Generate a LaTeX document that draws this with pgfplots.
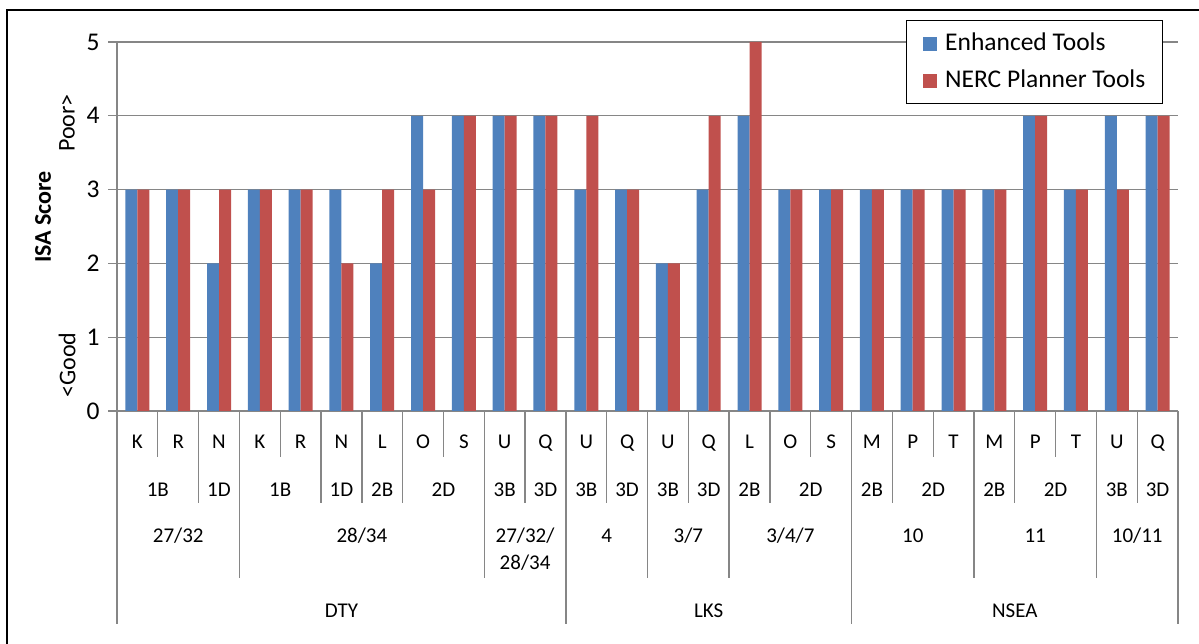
\documentclass[border=0pt]{standalone}
\usepackage{fontspec}
\setmainfont{Carlito}
\usepackage{pgfplots}
\pgfplotsset{compat=1.18}
\definecolor{eblue}{RGB}{79,129,189}
\definecolor{nred}{RGB}{192,80,77}
\definecolor{gridgray}{RGB}{134,134,134}

\begin{document}
\begin{tikzpicture}[x=1pt,y=1pt]
\useasboundingbox (0,0) rectangle (1199,644);
\draw[line width=1.5pt] (7,-5) -- (7,634) -- (1210,634);
\begin{axis}[
  at={(117pt,233pt)}, anchor=south west,
  scale only axis, width=1061pt, height=369pt,
  xmin=0.5, xmax=26.5, ymin=0, ymax=5,
  ybar=0pt, bar width=12pt,
  xtick=\empty, ytick={0,1,2,3,4,5},
  axis x line*=bottom, axis y line*=left,
  axis line style={gridgray, line width=1.3pt, -},
  ymajorgrids, grid style={gridgray, line width=1.3pt},
  tick align=outside, major tick length=9pt,
  tick style={gridgray, line width=1.3pt},
  yticklabel style={font=\fontsize{25.5}{30}\selectfont, text=black, xshift=-5pt},
  /pgf/number format/assume math mode=true,
  legend cell align=left,
  legend image code/.code={\fill[#1,draw=none] (0pt,-7pt) rectangle (14pt,7pt); \path (22pt,0pt);},
  legend style={at={(rel axis cs:1,1)}, anchor=north east, xshift=-15pt, yshift=22pt,
    draw=black, line width=1.3pt, fill=white, font=\fontsize{25.5}{30}\selectfont,
    inner xsep=17pt, inner ysep=7pt, row sep=5pt,
    nodes={inner xsep=0pt, inner ysep=3pt, text height=20pt, text depth=6pt}},
]
\addplot[fill=eblue, draw=none] coordinates {(1,3) (2,3) (3,2) (4,3) (5,3) (6,3) (7,2) (8,4) (9,4) (10,4) (11,4) (12,3) (13,3) (14,2) (15,3) (16,4) (17,3) (18,3) (19,3) (20,3) (21,3) (22,3) (23,4) (24,3) (25,4) (26,4)};
\addplot[fill=nred, draw=none] coordinates {(1,3) (2,3) (3,3) (4,3) (5,3) (6,2) (7,3) (8,3) (9,4) (10,4) (11,4) (12,4) (13,3) (14,2) (15,4) (16,5) (17,3) (18,3) (19,3) (20,3) (21,3) (22,3) (23,4) (24,3) (25,3) (26,4)};
\legend{Enhanced Tools, NERC Planner Tools}
\end{axis}
% axis titles
\node[rotate=90, font=\bfseries\fontsize{24}{28}\selectfont] at (43,427) {ISA Score};
\node[rotate=90, font=\fontsize{24}{28}\selectfont] at (67,521) {Poor>};
\node[rotate=90, font=\fontsize{24}{28}\selectfont] at (67,279) {<Good};
% category separators
\foreach \b/\l in {0/213,1/46,2/92,3/167,4/46,5/92,6/92,7/92,8/46,9/167,10/92,11/213,12/92,13/167,14/92,15/167,16/92,17/46,18/213,19/92,20/46,21/167,22/92,23/46,24/167,25/92,26/213}
  \draw[gridgray, line width=1.3pt] ({117+\b*40.8077},233) -- ++(0,-\l);
% level 1
\foreach \c/\t in {1/K,2/R,3/N,4/K,5/R,6/N,7/L,8/O,9/S,10/U,11/Q,12/U,13/Q,14/U,15/Q,16/L,17/O,18/S,19/M,20/P,21/T,22/M,23/P,24/T,25/U,26/Q}
  \node[font=\fontsize{21}{25}\selectfont, anchor=base] at ({117+(\c-0.5)*40.8077},195.5) {\t};
% level 2
\foreach \c/\t in {1.5/1B,3/1D,4.5/1B,6/1D,7/2B,8.5/2D,10/3B,11/3D,12/3B,13/3D,14/3B,15/3D,16/2B,17.5/2D,19/2B,20.5/2D,22/2B,23.5/2D,25/3B,26/3D}
  \node[font=\fontsize{21}{25}\selectfont, anchor=base] at ({117+(\c-0.5)*40.8077},147.5) {\t};
% level 3
\tikzset{lvl/.style={font=\fontsize{21}{25}\selectfont, anchor=base}}
\node[lvl] at ({117+1.5*40.8077},101.5) {27/32};
\node[lvl] at ({117+6*40.8077},101.5) {28/34};
\node[lvl] at ({117+10*40.8077},101.5) {27/32/};
\node[lvl] at ({117+10*40.8077},74.5) {28/34};
\node[lvl] at ({117+12*40.8077},101.5) {4};
\node[lvl] at ({117+14*40.8077},101.5) {3/7};
\node[lvl] at ({117+16.5*40.8077},101.5) {3/4/7};
\node[lvl] at ({117+19.5*40.8077},101.5) {10};
\node[lvl] at ({117+22.5*40.8077},101.5) {11};
\node[lvl] at ({117+25*40.8077},101.5) {10/11};
% level 4
\node[lvl] at ({117+5.5*40.8077},26.5) {DTY};
\node[lvl] at ({117+14.5*40.8077},26.5) {LKS};
\node[lvl] at ({117+22*40.8077},26.5) {NSEA};
\end{tikzpicture}
\end{document}
